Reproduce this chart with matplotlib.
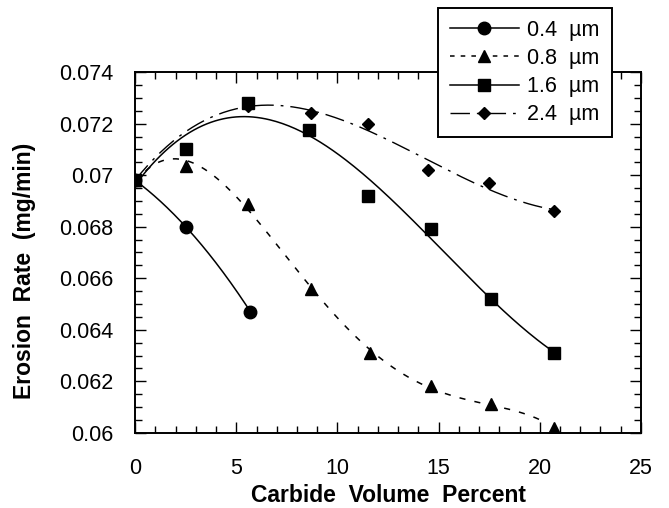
import numpy as np
import matplotlib
matplotlib.use("Agg")
import matplotlib.pyplot as plt
from matplotlib.ticker import MultipleLocator, FixedLocator

plt.rcParams['font.family'] = ['Liberation Sans', 'DejaVu Sans']

# carbide volume percent / erosion rate (mg/min)
x_04 = [0, 2.5, 5.7]
y_04 = [0.0698, 0.0680, 0.0647]

x_08 = [0, 2.5, 5.6, 8.7, 11.6, 14.6, 17.6, 20.7]
y_08 = [0.0698, 0.07035, 0.0689, 0.0656, 0.0631, 0.0618, 0.0611, 0.0602]

x_16 = [0, 2.5, 5.6, 8.6, 11.5, 14.6, 17.6, 20.7]
y_16 = [0.0698, 0.0710, 0.0728, 0.07175, 0.0692, 0.0679, 0.0652, 0.0631]

x_24 = [0, 5.6, 8.7, 11.5, 14.5, 17.5, 20.7]
y_24 = [0.0698, 0.0727, 0.0724, 0.0720, 0.0702, 0.0697, 0.0686]

labels = ["0.4  \u00b5m", "0.8  \u00b5m", "1.6  \u00b5m", "2.4  \u00b5m"]
y_ticks = [0.06, 0.062, 0.064, 0.066, 0.068, 0.07, 0.072, 0.074]
y_ticklabels = ["0.06", "0.062", "0.064", "0.066", "0.068", "0.07", "0.072", "0.074"]

fig = plt.figure(figsize=(6.69, 5.08), dpi=100)
ax = fig.add_axes([0.202, 0.148, 0.756, 0.71])

def smooth(xs, ys, deg, x_end=None):
    # smooth trend line through the points, like the original curve fit
    p = np.polyfit(xs, ys, deg)
    xx = np.linspace(xs[0], xs[-1] if x_end is None else x_end, 200)
    return xx, np.polyval(p, xx)

xx, yy = smooth(x_04, y_04, 2)
ax.plot(xx, yy, color="black", lw=1.1)
xx, yy = smooth(x_08, y_08, 4, 20.2)
ax.plot(xx, yy, color="black", lw=1.1, dashes=(4, 6))
xx, yy = smooth(x_16, y_16, 4)
ax.plot(xx, yy, color="black", lw=1.1)
xx, yy = smooth(x_24, y_24, 3)
ax.plot(xx, yy, color="black", lw=1.0, dashes=(14, 5, 2, 5))

ax.plot(x_24, y_24, ls="none", marker="D", ms=6.5, color="black", zorder=3)
ax.plot(x_04, y_04, ls="none", marker="o", ms=9, color="black", zorder=4)
ax.plot(x_08, y_08, ls="none", marker="^", ms=9, color="black", zorder=4)
ax.plot(x_16, y_16, ls="none", marker="s", ms=8.5, color="black", zorder=4)

# legend handles
h1, = ax.plot([], [], color="black", lw=1.1, marker="o", ms=9)
h2, = ax.plot([], [], color="black", lw=1.1, marker="^", ms=9, dashes=(3, 4))
h3, = ax.plot([], [], color="black", lw=1.1, marker="s", ms=8.5)
h4, = ax.plot([], [], color="black", lw=1.0, marker="D", ms=6.5, dashes=(14, 5, 2, 5))

ax.set_xlim(0, 25)
ax.set_ylim(0.06, 0.074)
ax.xaxis.set_major_locator(MultipleLocator(5))
ax.xaxis.set_minor_locator(MultipleLocator(1))
ax.yaxis.set_major_locator(FixedLocator(y_ticks))
ax.set_yticklabels(y_ticklabels)
ax.yaxis.set_minor_locator(MultipleLocator(0.0005))
ax.tick_params(which="both", direction="in", top=True, right=True, width=1, labelsize=15.5)
ax.tick_params(which="major", length=8)
ax.tick_params(which="minor", length=5)
ax.tick_params(axis="y", pad=16)
ax.tick_params(axis="x", pad=18)
for s in ax.spines.values():
    s.set_linewidth(1.4)

ax.set_xlabel("Carbide  Volume  Percent", fontsize=16.5, fontweight="bold")
ax.set_ylabel("Erosion  Rate  (mg/min)", fontsize=16.5, fontweight="bold")
ax.xaxis.set_label_coords(0.5, -0.143)
ax.yaxis.set_label_coords(-0.196, 0.45)

leg = fig.legend([h1, h2, h3, h4], labels, loc="upper left",
                 bbox_to_anchor=(438 / 669, 1 - 8 / 508), fontsize=15.5,
                 fancybox=False, framealpha=1, edgecolor="black",
                 handlelength=3.2, handletextpad=0.4, labelspacing=0.33,
                 borderpad=0.55, borderaxespad=0)
leg.get_frame().set_linewidth(1.4)
leg.set_zorder(10)

fig.savefig("out.png", dpi=100)
